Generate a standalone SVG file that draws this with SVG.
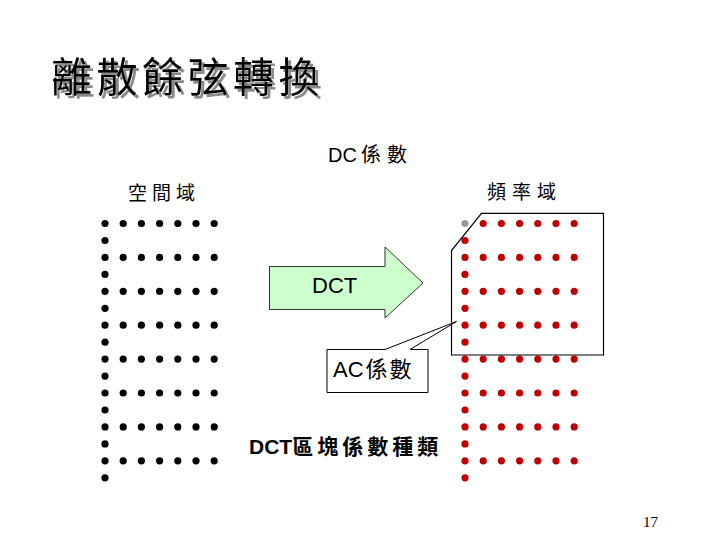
<svg xmlns="http://www.w3.org/2000/svg" width="720" height="540" viewBox="0 0 720 540">
<style>
.cjk{font-family:"Liberation Sans","Noto Sans CJK TC",sans-serif;fill:#000}
.bk{fill:#000}
.rd{fill:#C00000}
.gy{fill:#999999}
.ln{fill:none;stroke:#000;stroke-width:1.2}
</style>
<defs>
<circle id="b" r="3.6" class="bk"/>
<circle id="r" r="3.6" class="rd"/>
<filter id="sh" x="-10%" y="-20%" width="130%" height="150%">
<feDropShadow dx="3" dy="3" stdDeviation="0.6" flood-color="#8a8a8a" flood-opacity="1"/>
</filter>
</defs>
<rect width="720" height="540" fill="#fff"/>
<g id="title">
<text x="51" y="92" font-family="Noto Sans CJK TC,sans-serif" font-size="41" letter-spacing="4.5" fill="#000" filter="url(#sh)">離散餘弦轉換</text>
</g>
<g id="label-spatial"><text class="cjk" x="128" y="200" font-size="19" letter-spacing="5">空間域</text></g>
<g id="label-freq"><text class="cjk" x="487" y="199" font-size="19" letter-spacing="6">頻率域</text></g>
<g id="label-dc"><text class="cjk" x="328" y="162" font-size="20">DC<tspan dx="4" letter-spacing="6">係數</tspan></text></g>
<g id="spatial-grid">
<use href="#b" x="105" y="223.5"/><use href="#b" x="123.2" y="223.5"/><use href="#b" x="141.4" y="223.5"/><use href="#b" x="159.6" y="223.5"/><use href="#b" x="177.8" y="223.5"/><use href="#b" x="196" y="223.5"/><use href="#b" x="214.2" y="223.5"/>
<use href="#b" x="105" y="240.5"/>
<use href="#b" x="105" y="257.4"/><use href="#b" x="123.2" y="257.4"/><use href="#b" x="141.4" y="257.4"/><use href="#b" x="159.6" y="257.4"/><use href="#b" x="177.8" y="257.4"/><use href="#b" x="196" y="257.4"/><use href="#b" x="214.2" y="257.4"/>
<use href="#b" x="105" y="274.4"/>
<use href="#b" x="105" y="291.3"/><use href="#b" x="123.2" y="291.3"/><use href="#b" x="141.4" y="291.3"/><use href="#b" x="159.6" y="291.3"/><use href="#b" x="177.8" y="291.3"/><use href="#b" x="196" y="291.3"/><use href="#b" x="214.2" y="291.3"/>
<use href="#b" x="105" y="308.3"/>
<use href="#b" x="105" y="325.2"/><use href="#b" x="123.2" y="325.2"/><use href="#b" x="141.4" y="325.2"/><use href="#b" x="159.6" y="325.2"/><use href="#b" x="177.8" y="325.2"/><use href="#b" x="196" y="325.2"/><use href="#b" x="214.2" y="325.2"/>
<use href="#b" x="105" y="342.2"/>
<use href="#b" x="105" y="359.1"/><use href="#b" x="123.2" y="359.1"/><use href="#b" x="141.4" y="359.1"/><use href="#b" x="159.6" y="359.1"/><use href="#b" x="177.8" y="359.1"/><use href="#b" x="196" y="359.1"/><use href="#b" x="214.2" y="359.1"/>
<use href="#b" x="105" y="376.1"/>
<use href="#b" x="105" y="393"/><use href="#b" x="123.2" y="393"/><use href="#b" x="141.4" y="393"/><use href="#b" x="159.6" y="393"/><use href="#b" x="177.8" y="393"/><use href="#b" x="196" y="393"/><use href="#b" x="214.2" y="393"/>
<use href="#b" x="105" y="410"/>
<use href="#b" x="105" y="426.9"/><use href="#b" x="123.2" y="426.9"/><use href="#b" x="141.4" y="426.9"/><use href="#b" x="159.6" y="426.9"/><use href="#b" x="177.8" y="426.9"/><use href="#b" x="196" y="426.9"/><use href="#b" x="214.2" y="426.9"/>
<use href="#b" x="105" y="443.9"/>
<use href="#b" x="105" y="460.8"/><use href="#b" x="123.2" y="460.8"/><use href="#b" x="141.4" y="460.8"/><use href="#b" x="159.6" y="460.8"/><use href="#b" x="177.8" y="460.8"/><use href="#b" x="196" y="460.8"/><use href="#b" x="214.2" y="460.8"/>
<use href="#b" x="105" y="477.8"/>
</g>
<g id="freq-grid">
<circle cx="465" cy="223.5" r="3.6" class="gy"/><use href="#r" x="483.2" y="223.5"/><use href="#r" x="501.4" y="223.5"/><use href="#r" x="519.6" y="223.5"/><use href="#r" x="537.8" y="223.5"/><use href="#r" x="556" y="223.5"/><use href="#r" x="574.2" y="223.5"/>
<use href="#r" x="465" y="240.5"/>
<use href="#r" x="465" y="257.4"/><use href="#r" x="483.2" y="257.4"/><use href="#r" x="501.4" y="257.4"/><use href="#r" x="519.6" y="257.4"/><use href="#r" x="537.8" y="257.4"/><use href="#r" x="556" y="257.4"/><use href="#r" x="574.2" y="257.4"/>
<use href="#r" x="465" y="274.4"/>
<use href="#r" x="465" y="291.3"/><use href="#r" x="483.2" y="291.3"/><use href="#r" x="501.4" y="291.3"/><use href="#r" x="519.6" y="291.3"/><use href="#r" x="537.8" y="291.3"/><use href="#r" x="556" y="291.3"/><use href="#r" x="574.2" y="291.3"/>
<use href="#r" x="465" y="308.3"/>
<use href="#r" x="465" y="325.2"/><use href="#r" x="483.2" y="325.2"/><use href="#r" x="501.4" y="325.2"/><use href="#r" x="519.6" y="325.2"/><use href="#r" x="537.8" y="325.2"/><use href="#r" x="556" y="325.2"/><use href="#r" x="574.2" y="325.2"/>
<use href="#r" x="465" y="342.2"/>
<use href="#r" x="465" y="359.1"/><use href="#r" x="483.2" y="359.1"/><use href="#r" x="501.4" y="359.1"/><use href="#r" x="519.6" y="359.1"/><use href="#r" x="537.8" y="359.1"/><use href="#r" x="556" y="359.1"/><use href="#r" x="574.2" y="359.1"/>
<use href="#r" x="465" y="376.1"/>
<use href="#r" x="465" y="393"/><use href="#r" x="483.2" y="393"/><use href="#r" x="501.4" y="393"/><use href="#r" x="519.6" y="393"/><use href="#r" x="537.8" y="393"/><use href="#r" x="556" y="393"/><use href="#r" x="574.2" y="393"/>
<use href="#r" x="465" y="410"/>
<use href="#r" x="465" y="426.9"/><use href="#r" x="483.2" y="426.9"/><use href="#r" x="501.4" y="426.9"/><use href="#r" x="519.6" y="426.9"/><use href="#r" x="537.8" y="426.9"/><use href="#r" x="556" y="426.9"/><use href="#r" x="574.2" y="426.9"/>
<use href="#r" x="465" y="443.9"/>
<use href="#r" x="465" y="460.8"/><use href="#r" x="483.2" y="460.8"/><use href="#r" x="501.4" y="460.8"/><use href="#r" x="519.6" y="460.8"/><use href="#r" x="537.8" y="460.8"/><use href="#r" x="556" y="460.8"/><use href="#r" x="574.2" y="460.8"/>
<use href="#r" x="465" y="477.8"/>
</g>
<g id="connectors">
<path id="ac-region" class="ln" d="M481.5,213.3 L603.5,213.3 L603.5,355 L451.5,355 L451.5,250.5 Z"/>
</g>
<g id="dct-arrow">
<path d="M269.5,266.5 L385,266.5 L385,247 L423,283 L385,318 L385,309.5 L269.5,309.5 Z" fill="#CCFFCC" stroke="#333" stroke-width="1"/>
<text x="312" y="293" font-family="Liberation Sans,sans-serif" font-size="22" fill="#000">DCT</text>
</g>
<g id="ac-callout">
<path d="M327,349.5 L385,349.5 L456.5,321.5 L410,349.5 L428,349.5 L428,392.5 L327,392.5 Z" fill="#fff" stroke="#000" stroke-width="1"/>
<text class="cjk" x="333" y="377" font-size="22">AC<tspan dx="2" letter-spacing="2">係數</tspan></text>
</g>
<g id="caption">
<text x="249" y="454" font-family="Liberation Sans,Noto Sans CJK TC,sans-serif" font-size="21" font-weight="bold" fill="#000">DCT<tspan letter-spacing="4">區塊係數種類</tspan></text>
</g>
<g id="page-number"><text x="658" y="527" text-anchor="end" font-family="Liberation Serif,serif" font-size="15" fill="#000">17</text></g>
</svg>
